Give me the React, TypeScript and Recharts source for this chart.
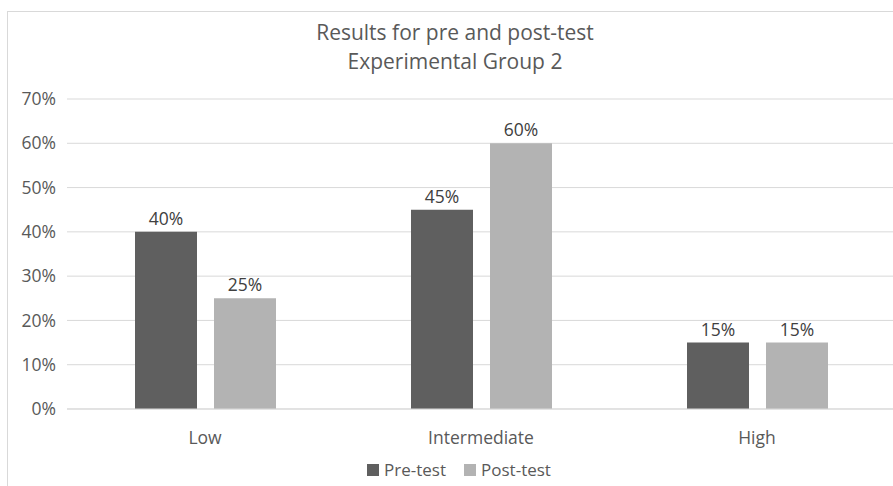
import React from 'react';
import {BarChart, Bar, XAxis, YAxis, CartesianGrid, Legend, LabelList} from 'recharts';

const levels = ['Low', 'Intermediate', 'High'];
const preTest = [40, 45, 15];
const postTest = [25, 60, 15];
const yTicks = [0, 10, 20, 30, 40, 50, 60, 70];
const seriesNames = ['Pre-test', 'Post-test'];

const data = levels.map((level, i) => ({
    level,
    pre: preTest[i],
    post: postTest[i],
}));

const FONT = '"Open Sans", sans-serif';
const TEXT = '#595959';
const DARK = '#5f5f5f';
const LIGHT = '#b3b3b3';
const colors = [DARK, LIGHT];

const pct = (v) => `${v}%`;

// legend drawn by hand so the order stays Pre-test, Post-test
const LegendContent = () => (
    <div style={{display: 'flex', justifyContent: 'center', alignItems: 'center', fontSize: 17, lineHeight: '22px', color: TEXT, fontFamily: FONT}}>
        {seriesNames.map((name, i) => (
            <span key={name} style={{display: 'inline-flex', alignItems: 'center', marginRight: i === 0 ? 18 : 0}}>
                <span style={{width: 12, height: 12, background: colors[i], marginRight: 5, display: 'inline-block'}}/>
                {name}
            </span>
        ))}
    </div>
);

const App = () => {
    return (
        <div style={{position: 'absolute', left: 0, top: 0, width: 893, height: 486, overflow: 'hidden', background: '#fff', fontFamily: FONT}}>
            {/* frame of the original chart area */}
            <div style={{position: 'absolute', left: 7, top: 11, width: 1000, height: 1000, borderLeft: '1px solid #d9d9d9', borderTop: '1px solid #d9d9d9'}}/>
            <div style={{position: 'absolute', left: 255, width: 400, top: 18, textAlign: 'center', color: TEXT, fontSize: 21, lineHeight: '29px'}}>
                Results for pre and post-test<br/>Experimental Group 2
            </div>
            <div style={{position: 'absolute', left: 0, top: 0}}>
                <BarChart
                    width={895}
                    height={486}
                    data={data}
                    margin={{top: 99, right: 0, left: 0, bottom: 0}}
                    barSize={62}
                    barGap={17}
                >
                    <CartesianGrid vertical={false} stroke="#d9d9d9"/>
                    <XAxis
                        dataKey="level"
                        height={77}
                        tickLine={false}
                        axisLine={{stroke: '#d9d9d9'}}
                        tickMargin={17}
                        tick={{fontSize: 17.5, fill: TEXT, fontFamily: FONT}}
                    />
                    <YAxis
                        width={67}
                        domain={[0, 70]}
                        ticks={yTicks}
                        tickFormatter={pct}
                        axisLine={false}
                        tickLine={false}
                        tickMargin={5}
                        tick={{fontSize: 17.5, fill: TEXT, fontFamily: FONT}}
                    />
                    <Legend
                        verticalAlign="middle"
                        align="center"
                        content={<LegendContent/>}
                        wrapperStyle={{top: 459, left: 0, width: 918}}
                    />
                    <Bar dataKey="pre" name="Pre-test" fill={DARK} isAnimationActive={false}>
                        <LabelList dataKey="pre" position="top" offset={7} formatter={pct}
                                   style={{fontSize: 17.5, fill: '#404040', fontFamily: FONT}}/>
                    </Bar>
                    <Bar dataKey="post" name="Post-test" fill={LIGHT} isAnimationActive={false}>
                        <LabelList dataKey="post" position="top" offset={7} formatter={pct}
                                   style={{fontSize: 17.5, fill: '#404040', fontFamily: FONT}}/>
                    </Bar>
                </BarChart>
            </div>
        </div>
    );
}

export default App
